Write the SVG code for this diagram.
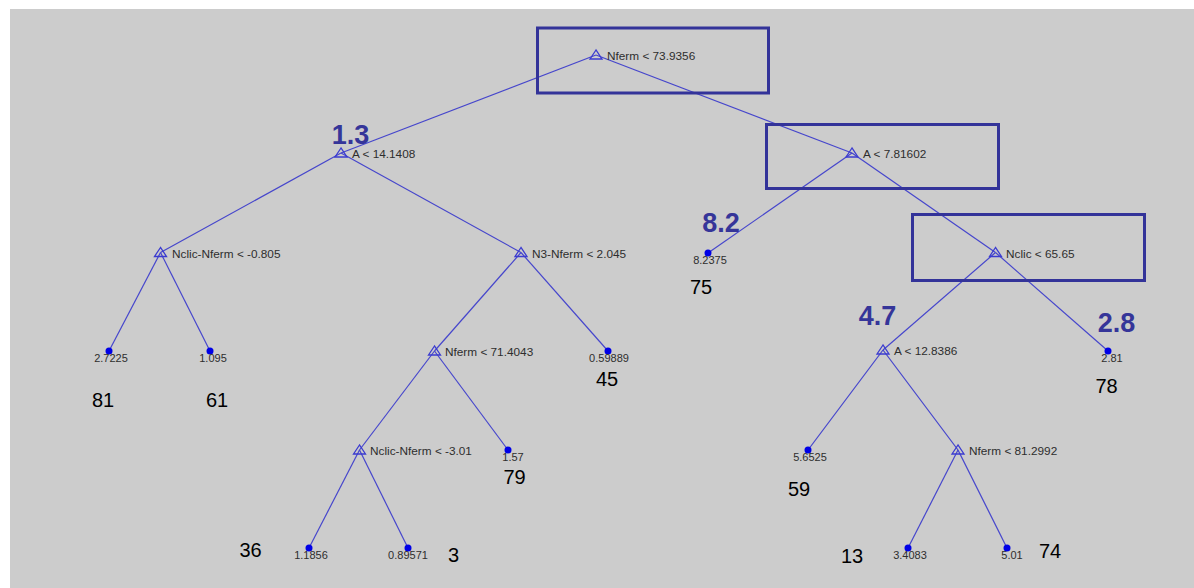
<svg xmlns="http://www.w3.org/2000/svg" width="1194" height="588" viewBox="0 0 1194 588">
<style>
.edge{stroke:#4646cc;stroke-width:1.2;fill:none}
.tri{fill:none;stroke:#3b3bd0;stroke-width:1.3}
.dot{fill:#0000e6}
.nl{font-family:"Liberation Sans",Arial,sans-serif;font-size:11.8px;fill:#2e2e2e}
.ll{font-family:"Liberation Sans",Arial,sans-serif;font-size:11px;fill:#2e2e2e;text-anchor:middle}
.big{font-family:"Liberation Sans",Arial,sans-serif;font-size:27px;font-weight:bold;fill:#353599;text-anchor:middle}
.cnt{font-family:"Liberation Sans",Arial,sans-serif;font-size:20px;fill:#000000;text-anchor:middle}
.box{fill:none;stroke:#333399;stroke-width:3}
</style>
<defs>
<path id="tri" d="M0,-5 L-6,4 L6,4 Z"/>
</defs>
<rect x="0" y="0" width="1194" height="588" fill="#ffffff"/>
<rect x="10" y="9" width="1184" height="579" fill="#cccccc"/>
<g id="connectors">
<line class="edge" x1="596" y1="55" x2="341" y2="153"/>
<line class="edge" x1="596" y1="55" x2="852" y2="153"/>
<line class="edge" x1="341" y1="153" x2="160.5" y2="252.5"/>
<line class="edge" x1="341" y1="153" x2="521" y2="252.5"/>
<line class="edge" x1="852" y1="153" x2="708" y2="253"/>
<line class="edge" x1="852" y1="153" x2="995.5" y2="252.5"/>
<line class="edge" x1="160.5" y1="252.5" x2="109" y2="351"/>
<line class="edge" x1="160.5" y1="252.5" x2="210" y2="351"/>
<line class="edge" x1="521" y1="252.5" x2="434.5" y2="351"/>
<line class="edge" x1="521" y1="252.5" x2="608" y2="351"/>
<line class="edge" x1="995.5" y1="252.5" x2="883" y2="350"/>
<line class="edge" x1="995.5" y1="252.5" x2="1108" y2="351"/>
<line class="edge" x1="434.5" y1="351" x2="359.5" y2="450"/>
<line class="edge" x1="434.5" y1="351" x2="508" y2="450"/>
<line class="edge" x1="883" y1="350" x2="808" y2="450"/>
<line class="edge" x1="883" y1="350" x2="958" y2="450"/>
<line class="edge" x1="359.5" y1="450" x2="309" y2="548"/>
<line class="edge" x1="359.5" y1="450" x2="408" y2="548"/>
<line class="edge" x1="958" y1="450" x2="908" y2="548"/>
<line class="edge" x1="958" y1="450" x2="1007" y2="548"/>
</g>
<g id="n-root"><use href="#tri" class="tri" x="596" y="55"/><text class="nl" x="607" y="60">Nferm &lt; 73.9356</text></g>
<g id="n-a14"><use href="#tri" class="tri" x="341" y="153"/><text class="nl" x="352" y="158">A &lt; 14.1408</text></g>
<g id="n-a7"><use href="#tri" class="tri" x="852" y="153"/><text class="nl" x="863" y="158">A &lt; 7.81602</text></g>
<g id="n-nn805"><use href="#tri" class="tri" x="160.5" y="252.5"/><text class="nl" x="172" y="257.5">Nclic-Nferm &lt; -0.805</text></g>
<g id="n-n3"><use href="#tri" class="tri" x="521" y="252.5"/><text class="nl" x="532" y="257.5">N3-Nferm &lt; 2.045</text></g>
<g id="n-nclic"><use href="#tri" class="tri" x="995.5" y="252.5"/><text class="nl" x="1006" y="257.5">Nclic &lt; 65.65</text></g>
<g id="n-nferm71"><use href="#tri" class="tri" x="434.5" y="351"/><text class="nl" x="445" y="356">Nferm &lt; 71.4043</text></g>
<g id="n-a12"><use href="#tri" class="tri" x="883" y="350"/><text class="nl" x="894" y="355">A &lt; 12.8386</text></g>
<g id="n-nn301"><use href="#tri" class="tri" x="359.5" y="450"/><text class="nl" x="370" y="455">Nclic-Nferm &lt; -3.01</text></g>
<g id="n-nferm81"><use href="#tri" class="tri" x="958" y="450"/><text class="nl" x="969" y="455">Nferm &lt; 81.2992</text></g>
<g id="l-8.2375"><circle class="dot" cx="708" cy="253" r="3.5"/><text class="ll" x="710" y="264">8.2375</text></g>
<g id="l-2.7225"><circle class="dot" cx="109" cy="351" r="3.5"/><text class="ll" x="111" y="362">2.7225</text></g>
<g id="l-1.095"><circle class="dot" cx="210" cy="351" r="3.5"/><text class="ll" x="213" y="362">1.095</text></g>
<g id="l-0.59889"><circle class="dot" cx="608" cy="351" r="3.5"/><text class="ll" x="609" y="362">0.59889</text></g>
<g id="l-2.81"><circle class="dot" cx="1108" cy="351" r="3.5"/><text class="ll" x="1112" y="362">2.81</text></g>
<g id="l-1.57"><circle class="dot" cx="508" cy="450" r="3.5"/><text class="ll" x="513" y="461">1.57</text></g>
<g id="l-5.6525"><circle class="dot" cx="808" cy="450" r="3.5"/><text class="ll" x="810" y="461">5.6525</text></g>
<g id="l-1.1856"><circle class="dot" cx="309" cy="548" r="3.5"/><text class="ll" x="311" y="559">1.1856</text></g>
<g id="l-0.89571"><circle class="dot" cx="408" cy="548" r="3.5"/><text class="ll" x="408" y="559">0.89571</text></g>
<g id="l-3.4083"><circle class="dot" cx="908" cy="548" r="3.5"/><text class="ll" x="910" y="559">3.4083</text></g>
<g id="l-5.01"><circle class="dot" cx="1007" cy="548" r="3.5"/><text class="ll" x="1012" y="559">5.01</text></g>
<g id="annotations">
<rect class="box" x="537.5" y="28" width="231" height="65"/>
<rect class="box" x="766.5" y="124.5" width="232" height="64"/>
<rect class="box" x="912.5" y="214.5" width="232" height="66"/>
<text class="big" x="350.5" y="144">1.3</text>
<text class="big" x="721" y="232">8.2</text>
<text class="big" x="877.5" y="325">4.7</text>
<text class="big" x="1116.5" y="332">2.8</text>
<text class="cnt" x="103" y="407">81</text>
<text class="cnt" x="217" y="407">61</text>
<text class="cnt" x="701" y="294">75</text>
<text class="cnt" x="607" y="386">45</text>
<text class="cnt" x="1106.5" y="393">78</text>
<text class="cnt" x="514.5" y="484">79</text>
<text class="cnt" x="799" y="496">59</text>
<text class="cnt" x="250.5" y="557">36</text>
<text class="cnt" x="453.5" y="562">3</text>
<text class="cnt" x="852" y="563">13</text>
<text class="cnt" x="1050" y="558">74</text>
</g>
</svg>
